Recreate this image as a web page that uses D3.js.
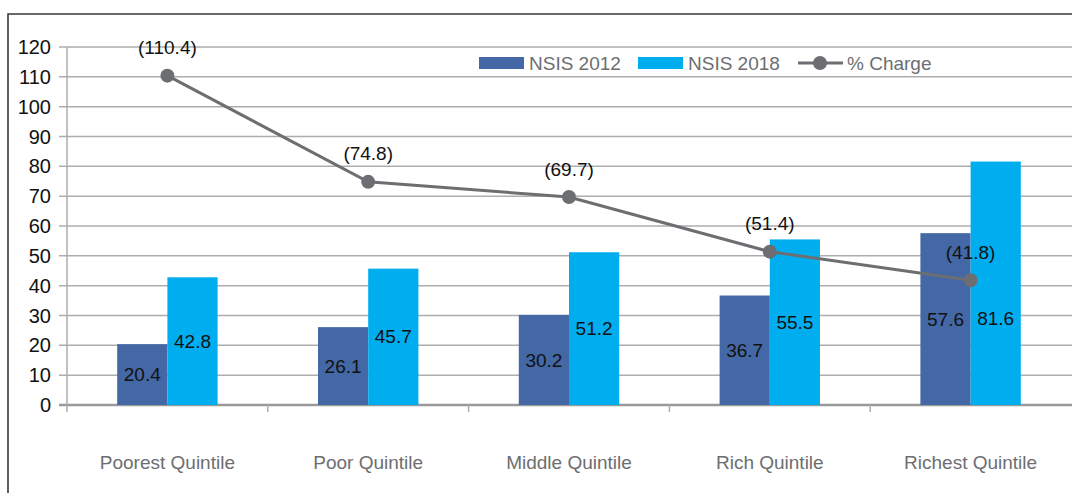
<html>
<head>
<meta charset="utf-8">
<script src="https://d3js.org/d3.v7.min.js"></script>
<style>
body { margin: 0; background: #fff; }
svg { display: block; font-family: "Liberation Sans", Arial, sans-serif; }
</style>
</head>
<body>
<div id="chart"></div>
<script>
var categories = ["Poorest Quintile", "Poor Quintile", "Middle Quintile", "Rich Quintile", "Richest Quintile"];
var nsis2012 = [20.4, 26.1, 30.2, 36.7, 57.6];
var nsis2018 = [42.8, 45.7, 51.2, 55.5, 81.6];
var pctCharge = [110.4, 74.8, 69.7, 51.4, 41.8];
var yTicks = [0, 10, 20, 30, 40, 50, 60, 70, 80, 90, 100, 110, 120];
var seriesNames = ["NSIS 2012", "NSIS 2018", "% Charge"];
var colors = ["#4467a5", "#00adef", "#6d6e71"];

var W = 1072, H = 493;
var svg = d3.select("#chart").append("svg").attr("width", W).attr("height", H);

// frame
svg.append("path")
	.attr("d", "M8," + H + "V14H" + W)
	.attr("fill", "none").attr("stroke", "#3a3a3a").attr("stroke-width", 1.6);

var x = d3.scaleBand().domain(categories).range([67, 1071]).paddingInner(0).paddingOuter(0);
var x1 = d3.scaleBand().domain([0, 1]).range([0, x.bandwidth()]).paddingOuter(1).paddingInner(0);
var y = d3.scaleLinear().domain([0, 120]).range([405, 47]);

// gridlines
svg.append("g").selectAll("line").data(yTicks).enter().append("line")
	.attr("x1", 59).attr("x2", W)
	.attr("y1", d => y(d)).attr("y2", d => y(d))
	.attr("stroke", d => d === 0 ? "#9a9a9a" : "#adadad")
	.attr("stroke-width", d => d === 0 ? 2.5 : 1.5);

// y axis labels
svg.append("g").selectAll("text").data(yTicks).enter().append("text")
	.attr("x", 51).attr("y", d => y(d)).attr("dy", "0.35em")
	.attr("text-anchor", "end").attr("font-size", 20).attr("fill", "#111")
	.text(d => d);

// y axis line
svg.append("line").attr("x1", 67).attr("x2", 67).attr("y1", y(120)).attr("y2", 412)
	.attr("stroke", "#adadad").attr("stroke-width", 1.5);

// category ticks
svg.append("g").selectAll("line").data(categories.slice(1)).enter().append("line")
	.attr("x1", d => x(d)).attr("x2", d => x(d)).attr("y1", 405).attr("y2", 412)
	.attr("stroke", "#adadad").attr("stroke-width", 1.5);

// bars
var groups = svg.append("g").selectAll("g").data(categories).enter().append("g")
	.attr("transform", d => "translate(" + x(d) + ",0)");

groups.each(function(c, i) {
	var g = d3.select(this);
	[nsis2012[i], nsis2018[i]].forEach(function(v, k) {
		g.append("rect")
			.attr("x", x1(k)).attr("width", x1.bandwidth())
			.attr("y", y(v)).attr("height", y(0) - y(v))
			.attr("fill", colors[k]);
		g.append("text")
			.attr("x", x1(k) + x1.bandwidth() / 2)
			.attr("y", y(Math.min(v / 2, 29))).attr("dy", "0.35em")
			.attr("text-anchor", "middle").attr("font-size", 19).attr("fill", "#111")
			.text(v.toFixed(1));
	});
});

// category labels
svg.append("g").selectAll("text").data(categories).enter().append("text")
	.attr("x", d => x(d) + x.bandwidth() / 2).attr("y", 469)
	.attr("text-anchor", "middle").attr("font-size", 19).attr("fill", "#6d6e71")
	.text(d => d);

// line
var cx = (d, i) => x(categories[i]) + x.bandwidth() / 2;
svg.append("path")
	.datum(pctCharge)
	.attr("d", d3.line().x(cx).y(d => y(d)))
	.attr("fill", "none").attr("stroke", colors[2]).attr("stroke-width", 3);

svg.append("g").selectAll("circle").data(pctCharge).enter().append("circle")
	.attr("cx", cx).attr("cy", d => y(d)).attr("r", 7).attr("fill", colors[2]);

svg.append("g").selectAll("text").data(pctCharge).enter().append("text")
	.attr("x", cx).attr("y", d => y(d) - 28).attr("dy", "0.35em")
	.attr("text-anchor", "middle").attr("font-size", 19).attr("fill", "#111")
	.text(d => "(" + d.toFixed(1) + ")");

// legend
var legend = svg.append("g").attr("transform", "translate(0,63)");
[479, 638].forEach(function(lx, k) {
	legend.append("rect").attr("x", lx).attr("y", -6).attr("width", 45).attr("height", 12).attr("fill", colors[k]);
	legend.append("text").attr("x", lx + 50).attr("y", 0).attr("dy", "0.35em")
		.attr("font-size", 19).attr("fill", "#6d6e71").text(seriesNames[k]);
});
legend.append("line").attr("x1", 798).attr("x2", 843).attr("y1", 0).attr("y2", 0)
	.attr("stroke", colors[2]).attr("stroke-width", 3);
legend.append("circle").attr("cx", 820).attr("cy", 0).attr("r", 7).attr("fill", colors[2]);
legend.append("text").attr("x", 847).attr("y", 0).attr("dy", "0.35em")
	.attr("font-size", 19).attr("fill", "#6d6e71").text(seriesNames[2]);
</script>
</body>
</html>
